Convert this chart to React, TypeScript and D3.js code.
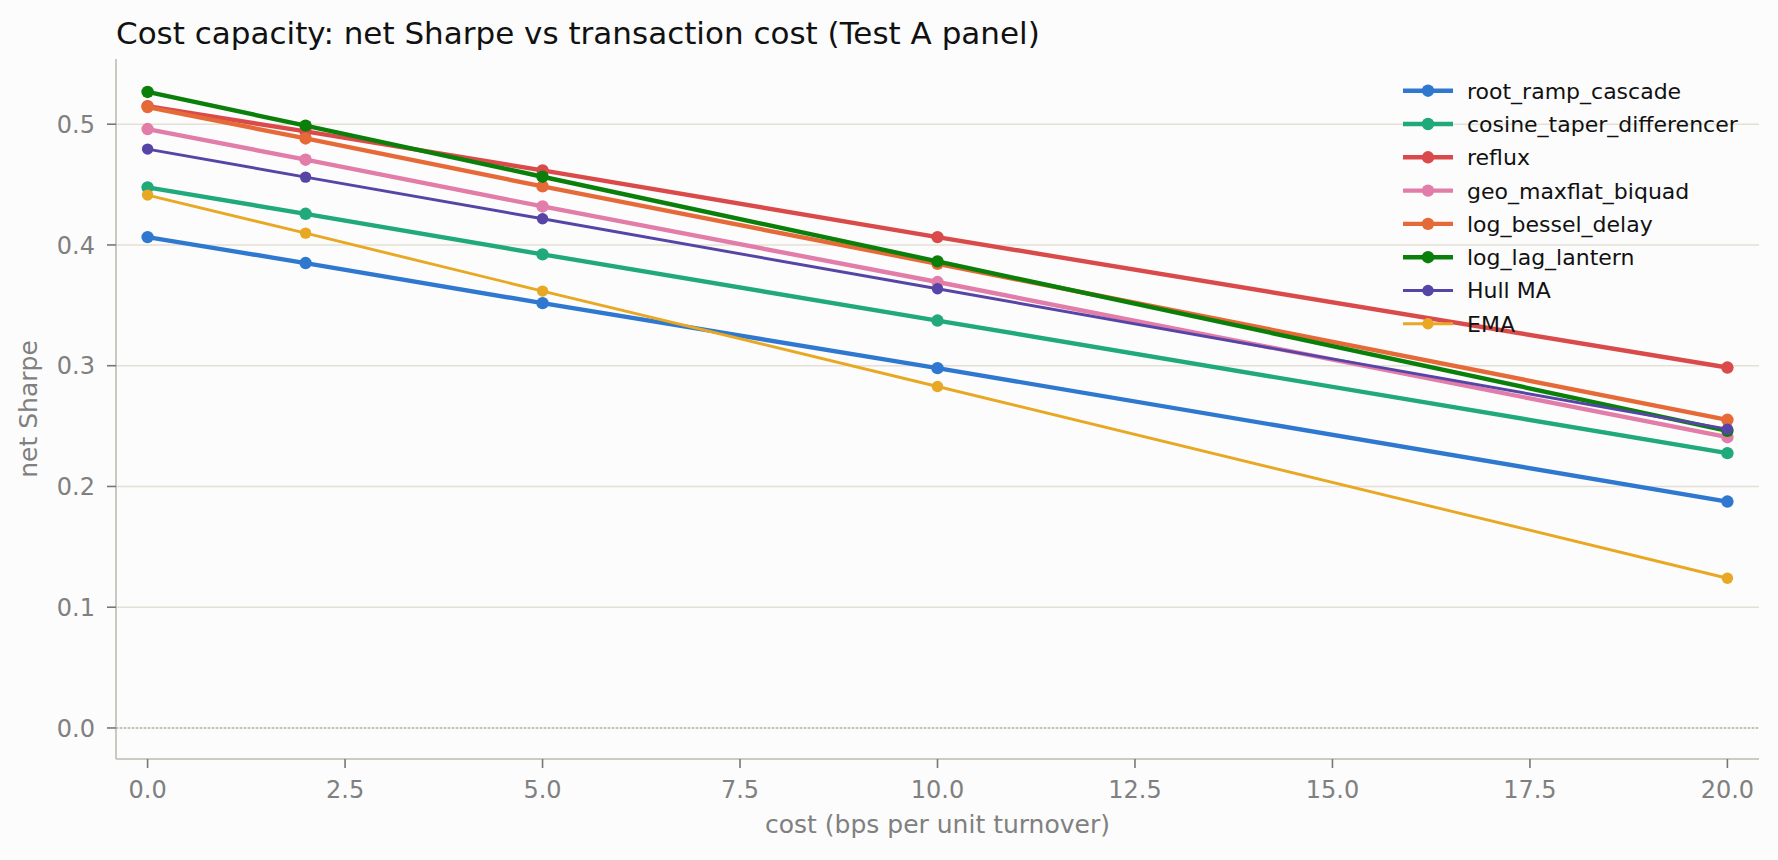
import * as d3 from "d3";
import React from "react";

const costs = [0, 2, 5, 10, 20];

const seriesNames = [
  "root_ramp_cascade",
  "cosine_taper_differencer",
  "reflux",
  "geo_maxflat_biquad",
  "log_bessel_delay",
  "log_lag_lantern",
  "Hull MA",
  "EMA",
];

const rootRampCascade = [0.4065, 0.385, 0.3518, 0.298, 0.1875];
const cosineTaperDifferencer = [0.4477, 0.4258, 0.3922, 0.3374, 0.2276];
const reflux = [0.515, 0.494, 0.4618, 0.4065, 0.2985];
const geoMaxflatBiquad = [0.496, 0.4706, 0.4319, 0.3693, 0.2408];
const logBesselDelay = [0.5142, 0.4882, 0.4485, 0.3844, 0.2552];
const logLagLantern = [0.5267, 0.4988, 0.4565, 0.3864, 0.2461];
const hullMA = [0.4794, 0.4562, 0.4217, 0.3637, 0.2475];
const ema = [0.4413, 0.4098, 0.3618, 0.2828, 0.124];

const seriesValues = [
  rootRampCascade,
  cosineTaperDifferencer,
  reflux,
  geoMaxflatBiquad,
  logBesselDelay,
  logLagLantern,
  hullMA,
  ema,
];

const colors = ["#2f78cf", "#20a97a", "#da4a4a", "#e27ca8", "#e66a38", "#0a7f0a", "#5645a6", "#e8a823"];
const thin = [false, false, false, false, false, false, true, true];

const xTicks = [0, 2.5, 5, 7.5, 10, 12.5, 15, 17.5, 20];
const yTicks = [0, 0.1, 0.2, 0.3, 0.4, 0.5];

const W = 1778;
const H = 860;
const left = 116;
const right = 1759;
const top = 59;
const bottom = 759;
const font = "DejaVu Sans, sans-serif";
const grey = "#808080";

export default function App() {
  const x = d3.scaleLinear().domain([-0.4, 20.4]).range([left, right]);
  const y = d3.scaleLinear().domain([-0.0257, 0.554]).range([bottom, top]);

  const line = d3
    .line<number>()
    .x((_, i) => x(costs[i]))
    .y((d) => y(d));

  return (
    <div style={{ position: "fixed", left: 0, top: 0 }}>
      <svg width={W} height={H} style={{ display: "block" }} fontFamily={font}>
        <rect width={W} height={H} fill="#fcfcfc" />

        {/* horizontal grid */}
        {yTicks.map((t) => (
          <line key={t} x1={left} x2={right} y1={y(t)} y2={y(t)} stroke="#e4e0d6" strokeWidth={1.5} />
        ))}
        <line
          x1={left}
          x2={right}
          y1={y(0)}
          y2={y(0)}
          stroke="#b8b8b0"
          strokeWidth={1.5}
          strokeDasharray="2,2"
        />

        {/* series */}
        {seriesValues.map((vals, k) => (
          <g key={seriesNames[k]}>
            <path
              d={line(vals) || undefined}
              fill="none"
              stroke={colors[k]}
              strokeWidth={thin[k] ? 2.9 : 4.4}
              strokeLinejoin="round"
            />
            {vals.map((v, i) => (
              <circle key={i} cx={x(costs[i])} cy={y(v)} r={thin[k] ? 5.7 : 6.2} fill={colors[k]} />
            ))}
          </g>
        ))}

        {/* axes */}
        <line x1={left} x2={left} y1={top} y2={bottom} stroke="#bdbbb0" strokeWidth={1.6} />
        <line x1={left} x2={right} y1={bottom} y2={bottom} stroke="#bdbbb0" strokeWidth={1.6} />
        {yTicks.map((t) => (
          <g key={t}>
            <line x1={left - 9} x2={left} y1={y(t)} y2={y(t)} stroke="#777" strokeWidth={1.6} />
            <text x={left - 21} y={y(t)} dy="0.36em" textAnchor="end" fontSize={24} fill={grey}>
              {d3.format(".1f")(t)}
            </text>
          </g>
        ))}
        {xTicks.map((t) => (
          <g key={t}>
            <line x1={x(t)} x2={x(t)} y1={bottom} y2={bottom + 9} stroke="#777" strokeWidth={1.6} />
            <text x={x(t)} y={bottom + 39} textAnchor="middle" fontSize={24} fill={grey}>
              {d3.format(".1f")(t)}
            </text>
          </g>
        ))}

        <text x={(left + right) / 2} y={833} textAnchor="middle" fontSize={25} fill={grey}>
          cost (bps per unit turnover)
        </text>
        <text
          transform={`translate(37, ${(top + bottom) / 2}) rotate(-90)`}
          textAnchor="middle"
          fontSize={25}
          fill={grey}
        >
          net Sharpe
        </text>
        <text x={116} y={44} fontSize={31} fill="#111">
          Cost capacity: net Sharpe vs transaction cost (Test A panel)
        </text>

        {/* legend */}
        {seriesNames.map((name, k) => {
          const cy = 90.7 + k * 33.3;
          return (
            <g key={name}>
              <line x1={1403} x2={1453} y1={cy} y2={cy} stroke={colors[k]} strokeWidth={thin[k] ? 2.9 : 4.4} />
              <circle cx={1428} cy={cy} r={thin[k] ? 5.7 : 6.2} fill={colors[k]} />
              <text x={1467} y={cy} dy="0.36em" fontSize={22} fill="#111">
                {name}
              </text>
            </g>
          );
        })}
      </svg>
    </div>
  );
}
